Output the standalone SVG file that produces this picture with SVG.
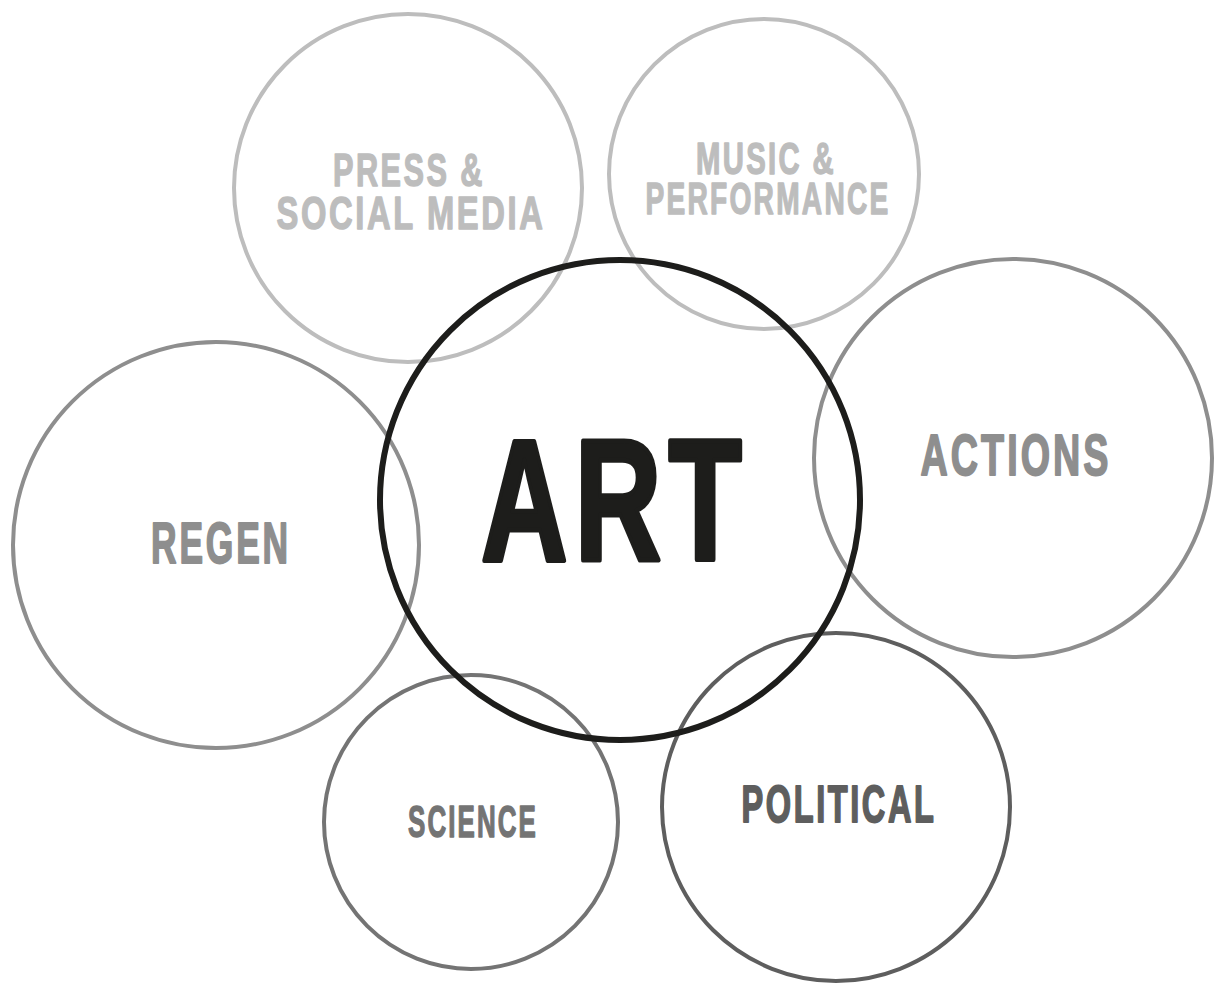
<svg xmlns="http://www.w3.org/2000/svg" width="1216" height="985" viewBox="0 0 1216 985">
<style>
  .c { fill: none; stroke-width: 4; }
  .t { font-family: "Liberation Sans", Arial, sans-serif; font-weight: bold; text-anchor: middle; stroke-linejoin: round; letter-spacing: 0.08em; }
  .light { stroke: #bdbdbd; }
  .mid { stroke: #8e8e8e; }
  .sci { stroke: #747474; }
  .pol { stroke: #5e5e5e; }
  .tl { fill: #bdbdbd; stroke: #bdbdbd; stroke-width: 1.4; }
  .tm { fill: #8e8e8e; stroke: #8e8e8e; stroke-width: 1.8; }
  .ts { fill: #747474; stroke: #747474; stroke-width: 1.4; }
  .tp { fill: #5e5e5e; stroke: #5e5e5e; stroke-width: 1.8; }
</style>
<rect width="1216" height="985" fill="#ffffff"/>
<g id="press">
  <circle class="c light" cx="408" cy="188" r="174"/>
  <text class="t tl" font-size="47"><tspan x="409" y="186" textLength="152" lengthAdjust="spacingAndGlyphs">PRESS &amp;</tspan><tspan x="411" y="229" textLength="269" lengthAdjust="spacingAndGlyphs">SOCIAL MEDIA</tspan></text>
</g>
<g id="music">
  <circle class="c light" cx="764" cy="174" r="155"/>
  <text class="t tl" font-size="44"><tspan x="766" y="174" textLength="140" lengthAdjust="spacingAndGlyphs">MUSIC &amp;</tspan><tspan x="768" y="214" textLength="245" lengthAdjust="spacingAndGlyphs">PERFORMANCE</tspan></text>
</g>
<g id="actions">
  <circle class="c mid" cx="1013" cy="458" r="199"/>
  <text class="t tm" x="1016" y="475" font-size="58" textLength="191" lengthAdjust="spacingAndGlyphs">ACTIONS</text>
</g>
<g id="regen">
  <circle class="c mid" cx="216" cy="545" r="203"/>
  <text class="t tm" x="221" y="563" font-size="58" textLength="140" lengthAdjust="spacingAndGlyphs">REGEN</text>
</g>
<g id="science">
  <circle class="c sci" cx="471" cy="822" r="147"/>
  <text class="t ts" x="473" y="837" font-size="44" textLength="130" lengthAdjust="spacingAndGlyphs">SCIENCE</text>
</g>
<g id="political">
  <circle class="c pol" cx="836" cy="807" r="174"/>
  <text class="t tp" x="839" y="822" font-size="51" textLength="195" lengthAdjust="spacingAndGlyphs">POLITICAL</text>
</g>
<g id="art">
  <circle cx="620" cy="500" r="240" fill="none" stroke="#1d1d1b" stroke-width="6"/>
  <text class="t" x="615" y="559.5" font-size="173" fill="#1d1d1b" stroke="#1d1d1b" stroke-width="5" textLength="268" lengthAdjust="spacingAndGlyphs" style="letter-spacing:0.06em">ART</text>
</g>
<g id="connectors"></g>
</svg>
